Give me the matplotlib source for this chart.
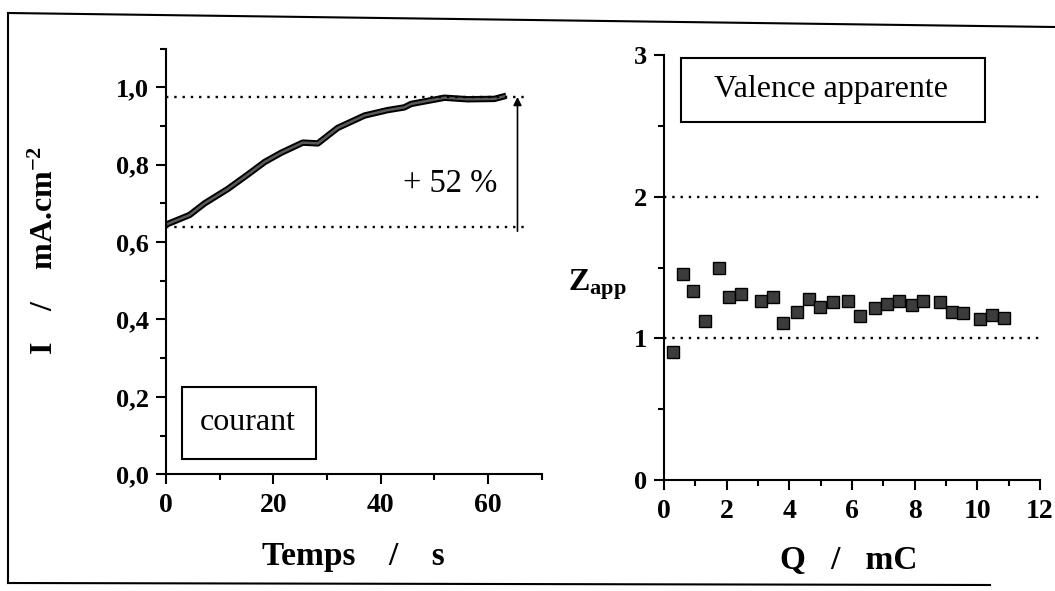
import matplotlib.pyplot as plt
from matplotlib.ticker import MultipleLocator, FuncFormatter
from matplotlib.lines import Line2D
from matplotlib.patches import Rectangle

plt.rcParams['font.family'] = ['Liberation Serif', 'DejaVu Serif']
plt.rcParams['font.weight'] = 'bold'
plt.rcParams['axes.labelweight'] = 'bold'
plt.rcParams['mathtext.fontset'] = 'custom'
plt.rcParams['mathtext.rm'] = 'Liberation Serif:bold'
plt.rcParams['mathtext.bf'] = 'Liberation Serif:bold'
plt.rcParams['mathtext.it'] = 'Liberation Serif:bold'

# courbe du courant
temps = [0, 4.4, 7.2, 11.5, 15.3, 18.4, 21.5, 25.5, 28.3, 32, 37, 41.3, 44.4, 45.7,
         51.9, 56.2, 61.2, 63.4]
courant = [0.645, 0.670, 0.700, 0.737, 0.775, 0.807, 0.831, 0.857, 0.855, 0.895,
           0.927, 0.941, 0.948, 0.957, 0.973, 0.969, 0.970, 0.978]
i_debut = 0.64
i_fin = 0.975

# valence apparente
charge = [0.28, 0.62, 0.94, 1.31, 1.76, 2.07, 2.45, 3.09, 3.49, 3.81, 4.24, 4.63, 4.98,
          5.40, 5.88, 6.26, 6.73, 7.11, 7.50, 7.90, 8.28, 8.81, 9.20, 9.55, 10.09,
          10.46, 10.85]
z_app = [0.905, 1.456, 1.337, 1.120, 1.494, 1.294, 1.316, 1.261, 1.290, 1.108, 1.186,
         1.281, 1.219, 1.255, 1.265, 1.160, 1.211, 1.240, 1.265, 1.238, 1.261, 1.258,
         1.188, 1.177, 1.136, 1.168, 1.146]
z_ref = [1, 2]


def style(ax):
    for s in ['top', 'right']:
        ax.spines[s].set_visible(False)
    for s in ['left', 'bottom']:
        ax.spines[s].set_linewidth(1.5)
    ax.tick_params(which='major', direction='out', length=7.5, width=1.5, pad=5)
    ax.tick_params(which='minor', direction='out', length=4, width=1.5)
    ax.tick_params(axis='y', labelsize=19)
    ax.tick_params(axis='x', labelsize=20, pad=6)


fig = plt.figure(figsize=(10.55, 5.91), dpi=100)

# cadre exterieur (scan)
fig.add_artist(Line2D([8 / 1055, 8 / 1055], [1 - 13 / 591, 1 - 583 / 591], color='black', lw=1.5))
fig.add_artist(Line2D([8 / 1055, 1.0], [1 - 13 / 591, 1 - 27 / 591], color='black', lw=1.5))
fig.add_artist(Line2D([8 / 1055, 990 / 1055], [1 - 583 / 591, 1 - 585 / 591], color='black', lw=1.5))

# --- courant ---
ax1 = fig.add_axes([0.1573, 0.1975, 0.3561, 0.7203])
style(ax1)
ax1.set_xlim(0, 70)
ax1.set_ylim(0, 1.1)
ax1.xaxis.set_major_locator(MultipleLocator(20))
ax1.xaxis.set_minor_locator(MultipleLocator(10))
ax1.yaxis.set_major_locator(MultipleLocator(0.2))
ax1.yaxis.set_minor_locator(MultipleLocator(0.1))
ax1.yaxis.set_major_formatter(FuncFormatter(lambda v, p: f'{v:.1f}'.replace('.', ',')))

ax1.plot(temps, courant, color='black', lw=4.6, solid_capstyle='butt')
ax1.plot(temps, courant, color='#5a5a5a', lw=1.8, solid_capstyle='butt')
ax1.plot([0, 67], [i_fin, i_fin], color='black', lw=1.7, ls=(0, (1, 2.5)))
ax1.plot([0, 67], [i_debut, i_debut], color='black', lw=1.7, ls=(0, (1, 2.5)))
ax1.annotate('', xy=(65.5, i_fin), xytext=(65.5, i_debut - 0.012),
             arrowprops=dict(arrowstyle='-|>', lw=1.2, color='black',
                             mutation_scale=12, shrinkA=0, shrinkB=0))
ax1.text(52.9, 0.75, '+ 52 %', fontsize=23.5, fontweight='normal', ha='center', va='center')

ax1.add_patch(Rectangle((3, 0.04), 25, 0.186, fill=False, lw=1.5, ec='black'))
ax1.text(15.3, 0.135, 'courant', fontsize=23, fontweight='normal', ha='center', va='center')

ax1.set_xlabel('Temps    /    s', fontsize=24, va='center')
ax1.xaxis.set_label_coords(0.5, -0.192)
ax1.set_ylabel('I    /    mA.cm$^{-2}$', fontsize=23, va='center')
ax1.yaxis.set_label_coords(-0.322, 0.527)

# --- valence apparente ---
ax2 = fig.add_axes([0.6294, 0.1878, 0.3564, 0.7191])
style(ax2)
ax2.set_xlim(0, 12)
ax2.set_ylim(0, 3)
ax2.xaxis.set_major_locator(MultipleLocator(2))
ax2.xaxis.set_minor_locator(MultipleLocator(1))
ax2.yaxis.set_major_locator(MultipleLocator(1))
ax2.yaxis.set_minor_locator(MultipleLocator(0.5))

for z in z_ref:
    ax2.plot([0, 12], [z, z], color='black', lw=1.7, ls=(0, (1, 2.5)), clip_on=False)
ax2.plot(charge, z_app, 's', ms=8, mfc='#3c3c3c', mec='black', mew=1, clip_on=False)

ax2.add_patch(Rectangle((0.54, 2.53), 9.7, 0.45, fill=False, lw=1.5, ec='black'))
ax2.text(5.33, 2.76, 'Valence apparente', fontsize=23, fontweight='normal', ha='center', va='center')

ax2.set_xlabel('Q   /   mC', fontsize=24, va='center')
ax2.xaxis.set_label_coords(0.49, -0.19)
ax2.set_ylabel('Z$_{\\mathrm{app}}$', fontsize=23, rotation=0, va='center', ha='center')
ax2.yaxis.set_label_coords(-0.176, 0.459)

fig.savefig('out.png', dpi=100)
